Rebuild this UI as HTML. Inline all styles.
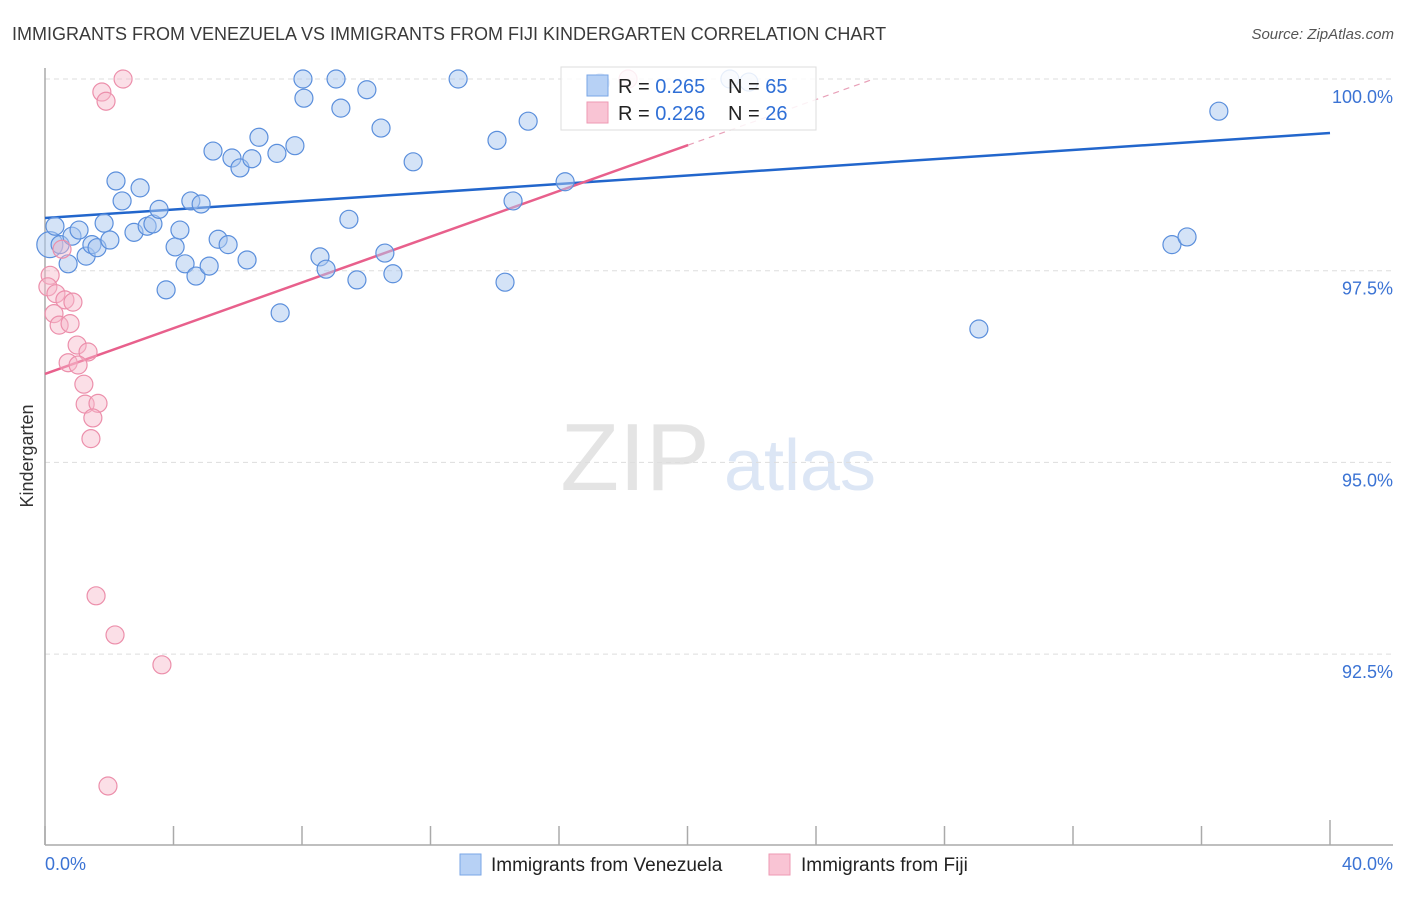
<!DOCTYPE html>
<html><head><meta charset="utf-8"><style>
body{margin:0;background:#fff;font-family:"Liberation Sans",sans-serif;}
svg text{font-family:"Liberation Sans",sans-serif;}
</style></head><body>
<svg id="chart" width="1406" height="892" xmlns="http://www.w3.org/2000/svg">
<text x="12" y="40" font-size="18" fill="#3a3a3a">IMMIGRANTS FROM VENEZUELA VS IMMIGRANTS FROM FIJI KINDERGARTEN CORRELATION CHART</text>
<text x="1394" y="39" font-size="15" fill="#555" text-anchor="end" font-style="italic">Source: ZipAtlas.com</text>
<text transform="translate(33,456) rotate(-90)" font-size="18" fill="#333" text-anchor="middle">Kindergarten</text>
<g><text x="635" y="490" font-size="96" fill="#e4e4e4" text-anchor="middle" font-family="Liberation Serif,serif">ZIP</text><text x="800" y="490" font-size="72" fill="#dce6f5" text-anchor="middle">atlas</text></g>
<g id="grid"></g><g id="axes"></g><g id="lines"></g><g id="pts"></g>
<g>
<rect x="561" y="67" width="255" height="63" fill="#fff" fill-opacity="0.85" stroke="#ddd"/>
<rect x="587" y="75" width="21" height="21" fill="#b7d1f5" stroke="#7aa6e6"/>
<rect x="587" y="102" width="21" height="21" fill="#f9c4d4" stroke="#ee9ab3"/>
<text x="618" y="93" font-size="20" fill="#222">R = <tspan fill="#2f6fd6">0.265</tspan></text>
<text x="728" y="93" font-size="20" fill="#222">N = <tspan fill="#2f6fd6">65</tspan></text>
<text x="618" y="120" font-size="20" fill="#222">R = <tspan fill="#2f6fd6">0.226</tspan></text>
<text x="728" y="120" font-size="20" fill="#222">N = <tspan fill="#2f6fd6">26</tspan></text>
</g>
<g>
<rect x="460" y="854" width="21" height="21" fill="#b7d1f5" stroke="#7aa6e6"/>
<text x="491" y="871" font-size="19" fill="#222">Immigrants from Venezuela</text>
<rect x="769" y="854" width="21" height="21" fill="#f9c4d4" stroke="#ee9ab3"/>
<text x="801" y="871" font-size="19" fill="#222">Immigrants from Fiji</text>
</g>
</svg>
<script>
const xTicks=[0,4,8,12,16,20,24,28,32,36,40];
const yTicks=[100,97.5,95,92.5];
const yTickLabels=["100.0%","97.5%","95.0%","92.5%"];
const venX=[0.15,0.31,0.47,0.72,0.84,1.06,1.28,1.46,1.62,1.84,2.02,2.21,2.40,2.77,2.96,3.18,3.36,3.55,3.77,4.05,4.20,4.36,4.54,4.70,4.86,5.11,5.23,5.39,5.70,5.82,6.07,6.29,6.44,6.66,7.22,7.32,7.78,8.03,8.06,8.56,8.75,9.06,9.21,9.46,9.71,10.02,10.46,10.58,10.83,11.46,12.86,14.07,14.32,14.57,15.04,16.19,17.28,21.32,21.91,29.07,35.08,35.55,36.54];
const venY=[97.84,98.08,97.84,97.59,97.95,98.03,97.69,97.84,97.80,98.12,97.90,98.67,98.41,98.00,98.58,98.08,98.11,98.30,97.25,97.81,98.03,97.59,98.41,97.43,98.37,97.56,99.06,97.91,97.84,98.97,98.84,97.64,98.96,99.24,99.03,96.95,99.13,100,99.75,97.68,97.52,100,99.62,98.17,97.38,99.86,99.36,97.73,97.46,98.92,100,99.20,97.35,98.41,99.45,98.66,99.95,100,99.96,96.74,97.84,97.94,99.58];
const fijiX=[2.43,1.77,1.90,0.53,0.16,0.09,0.34,0.62,0.87,0.28,0.44,0.78,1.00,1.34,0.72,1.03,1.21,1.25,1.65,1.49,1.43,1.59,2.18,3.64,1.96,18.15];
const fijiY=[100,99.83,99.71,97.78,97.44,97.29,97.20,97.12,97.09,96.94,96.79,96.81,96.53,96.44,96.30,96.27,96.02,95.76,95.77,95.58,95.31,93.26,92.75,92.36,90.78,100];
const venTrend=[[0,98.187],[40,99.296]];
const fijiTrend=[[0,96.153],[20.02,99.139]];
const fijiTrendExt=[[20.02,99.139],[25.8,100]];
const NS="http://www.w3.org/2000/svg";
const sx=v=>45+v/40*1285;
const sy=v=>79+(100-v)/2.5*191.7;
function mk(parent,tag,attrs){const e=document.createElementNS(NS,tag);for(const k in attrs)e.setAttribute(k,attrs[k]);document.getElementById(parent).appendChild(e);return e;}
yTicks.forEach((t,i)=>{
 const g=mk('grid','line',{x1:45,x2:1393,y1:sy(t),y2:sy(t),stroke:'#ddd','stroke-dasharray':'5,4'});
 
 
 const l=mk('axes','text',{x:1393,y:sy(t)+24,'font-size':18,fill:'#3b73d4','text-anchor':'end'});
 l.textContent=yTickLabels[i];
 
 
});
const ya=mk('axes','line',{x1:45,x2:45,y1:68,y2:845,stroke:'#aaa','stroke-width':1.5});


const xa=mk('axes','line',{x1:45,x2:1393,y1:845,y2:845,stroke:'#aaa','stroke-width':1.5});


xTicks.forEach((t,i)=>{
 const tk=mk('axes','line',{x1:sx(t),x2:sx(t),y1:(i==xTicks.length-1?820:826),y2:845,stroke:'#aaa','stroke-width':1.5});
 
 
});
const xl0=mk('axes','text',{x:45,y:870,'font-size':18,fill:'#3b73d4'});xl0.textContent=xTicks[0].toFixed(1)+'%';


const xl1=mk('axes','text',{x:1393,y:870,'font-size':18,fill:'#3b73d4','text-anchor':'end'});xl1.textContent=xTicks[xTicks.length-1].toFixed(1)+'%';


venX.forEach((x,i)=>{
 const c=mk('pts','circle',{cx:sx(x),cy:sy(venY[i]),r:(i==0?13:9),fill:'#a9c8f0','fill-opacity':0.5,stroke:'#5b8fdc','stroke-width':1.2});
 
 
});
fijiX.forEach((x,i)=>{
 const c=mk('pts','circle',{cx:sx(x),cy:sy(fijiY[i]),r:9,fill:'#f6b7c9','fill-opacity':0.45,stroke:'#ec8fab','stroke-width':1.2});
 
 
});
const bl=mk('lines','line',{x1:sx(venTrend[0][0]),y1:sy(venTrend[0][1]),x2:sx(venTrend[1][0]),y2:sy(venTrend[1][1]),stroke:'#2266cc','stroke-width':2.5});


const pl=mk('lines','line',{x1:sx(fijiTrend[0][0]),y1:sy(fijiTrend[0][1]),x2:sx(fijiTrend[1][0]),y2:sy(fijiTrend[1][1]),stroke:'#e8608c','stroke-width':2.5});


const pd=mk('lines','line',{x1:sx(fijiTrendExt[0][0]),y1:sy(fijiTrendExt[0][1]),x2:sx(fijiTrendExt[1][0]),y2:sy(fijiTrendExt[1][1]),stroke:'#e8a0b8','stroke-width':1.2,'stroke-dasharray':'6,5'});


</script>
</body></html>
